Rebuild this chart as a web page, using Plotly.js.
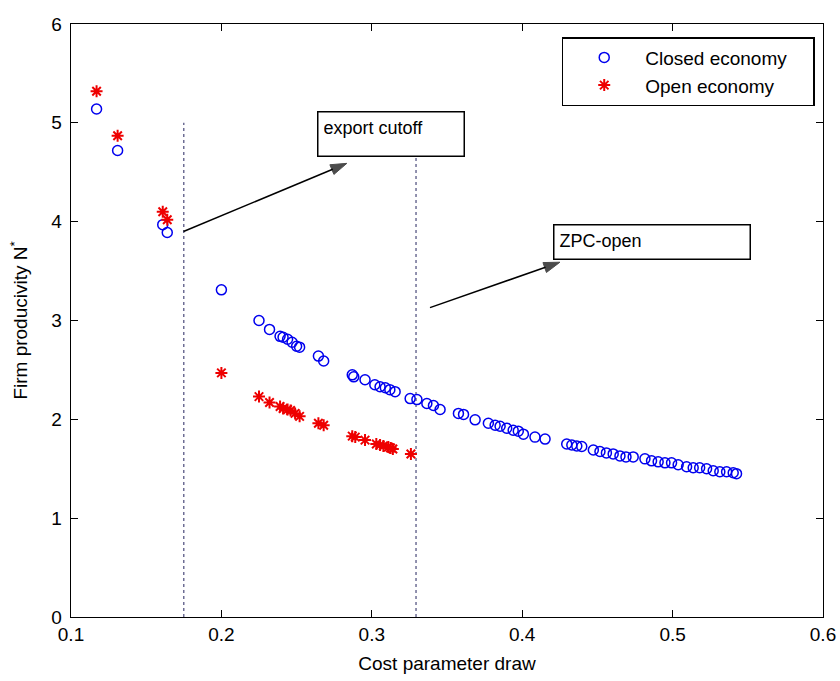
<!DOCTYPE html>
<html>
<head>
<meta charset="utf-8">
<script src="https://cdn.plot.ly/plotly-3.0.1.min.js"></script>
<style>html,body{margin:0;padding:0;background:#fff;}#chart{width:840px;height:681px;}</style>
</head>
<body>
<div id="chart"></div>
<script>
// Closed economy (blue circles)
var closedX = [0.117, 0.131, 0.161, 0.164, 0.200, 0.225, 0.232, 0.239, 0.241, 0.244, 0.247, 0.250, 0.252, 0.2645, 0.268,
  0.287, 0.288, 0.2955, 0.302, 0.3055, 0.309, 0.312, 0.3155, 0.3255, 0.330, 0.3366, 0.341, 0.3454, 0.3576, 0.361, 0.3687,
  0.3775, 0.382, 0.3853, 0.3897, 0.394, 0.3974, 0.4008, 0.4085, 0.4152, 0.4296, 0.433, 0.4363, 0.4396, 0.4473, 0.4517,
  0.456, 0.4605, 0.465, 0.469, 0.4738, 0.4816, 0.486, 0.4904, 0.4949, 0.4993, 0.5037, 0.5093, 0.5137, 0.518, 0.5226,
  0.527, 0.5314, 0.5359, 0.5403, 0.5425];
var closedY = [5.14, 4.72, 3.97, 3.89, 3.31, 3.00, 2.91, 2.84, 2.83, 2.81, 2.78, 2.74, 2.73, 2.64, 2.59,
  2.45, 2.43, 2.40, 2.35, 2.33, 2.32, 2.30, 2.28, 2.21, 2.20, 2.16, 2.14, 2.10, 2.06, 2.05, 1.995,
  1.96, 1.94, 1.93, 1.91, 1.89, 1.88, 1.85, 1.82, 1.80, 1.75, 1.74, 1.73, 1.725, 1.69, 1.675,
  1.66, 1.65, 1.63, 1.62, 1.62, 1.60, 1.58, 1.57, 1.56, 1.56, 1.54, 1.52, 1.51, 1.51, 1.50,
  1.48, 1.47, 1.47, 1.46, 1.45];
// Open economy (red stars)
var openX = [0.117, 0.131, 0.161, 0.164, 0.200, 0.225, 0.232, 0.239, 0.241, 0.244, 0.246, 0.249, 0.252, 0.2645, 0.268,
  0.287, 0.289, 0.2955, 0.303, 0.3055, 0.3077, 0.311, 0.3125, 0.314, 0.326];
var openY = [5.32, 4.87, 4.10, 4.02, 2.47, 2.23, 2.17, 2.13, 2.11, 2.10, 2.09, 2.06, 2.03, 1.96, 1.94,
  1.83, 1.82, 1.79, 1.75, 1.74, 1.73, 1.72, 1.71, 1.70, 1.65];
// Cutoff lines
var cutoffX = [0.175, 0.3294];
var cutoffTop = [5.0, 4.8];
var legendNames = ['Closed economy', 'Open economy'];
var xTicks = [0.1, 0.2, 0.3, 0.4, 0.5, 0.6];
var yTicks = [0, 1, 2, 3, 4, 5, 6];
// Annotation text and arrows
var labelTexts = ['export cutoff', 'ZPC-open'];
var labelPos = [[0.2635, 5.12], [0.4205, 3.98]];
var arrowTail = [[0.1748, 3.90], [0.3387, 3.13]];
var arrowHead = [[0.2834, 4.59], [0.4251, 3.59]];

var FONT = 'Liberation Sans, Arial, sans-serif';
var NB = '\u00a0\u00a0\u00a0\u00a0';

var traces = [];
for (var i = 0; i < cutoffX.length; i++) {
  traces.push({x: [cutoffX[i], cutoffX[i]], y: [0, cutoffTop[i]], mode: 'lines', showlegend: false,
    hoverinfo: 'skip', line: {color: '#4a4a7a', width: 1.2, dash: 'dot'}});
}
for (var k = 0; k < arrowTail.length; k++) {
  traces.push({x: [arrowTail[k][0], arrowHead[k][0]], y: [arrowTail[k][1], arrowHead[k][1]],
    mode: 'lines+markers', showlegend: false, hoverinfo: 'skip', line: {color: '#000', width: 1.5},
    marker: {symbol: ['circle', 'arrow'], size: [0, 17], color: '#000', angleref: 'previous',
      line: {width: 1, color: '#000'}}});
}
traces.push({x: closedX, y: closedY, mode: 'markers', name: legendNames[0] + NB, type: 'scatter',
  marker: {symbol: 'circle-open', size: 10, color: '#0000ee', line: {width: 1.5, color: '#0000ee'}}});
traces.push({x: openX, y: openY, mode: 'markers', name: legendNames[1] + NB, type: 'scatter',
  marker: {symbol: 'asterisk-open', size: 10, color: '#ee0000', line: {width: 2, color: '#ee0000'}}});

var annotations = [];
var boxW = [135, 185], boxH = [33, 23];
for (var j = 0; j < labelTexts.length; j++) {
  annotations.push({x: labelPos[j][0], y: labelPos[j][1], xref: 'x', yref: 'y', text: labelTexts[j],
    showarrow: false, xanchor: 'left', yanchor: 'top', align: 'left', valign: 'top',
    width: boxW[j], height: boxH[j], bordercolor: '#000', borderwidth: 1.5, borderpad: 5, bgcolor: '#fff',
    font: {family: FONT, size: 18, color: '#000'}});
}

var layout = {
  width: 840, height: 681,
  margin: {l: 71, r: 17, t: 24, b: 64},
  paper_bgcolor: '#fff', plot_bgcolor: '#fff',
  font: {family: FONT, size: 18, color: '#000'},
  showlegend: true,
  legend: {x: 0.989, y: 0.978, xanchor: 'right', yanchor: 'top', bgcolor: '#fff', bordercolor: '#000',
    borderwidth: 1.5, font: {family: FONT, size: 19, color: '#000'}, itemwidth: 72},
  xaxis: {range: [0.1, 0.6], tickvals: xTicks, ticktext: xTicks.map(function(v){return String(v);}),
    ticks: 'inside', ticklen: 7, tickcolor: '#000', showline: true, linecolor: '#000', linewidth: 1.3, mirror: 'ticks',
    showgrid: false, zeroline: false, tickfont: {size: 19},
    title: {text: 'Cost parameter draw', font: {size: 19}, standoff: 12}},
  yaxis: {range: [0, 6], tickvals: yTicks, ticks: 'inside', ticklen: 7, tickcolor: '#000', showline: true,
    linecolor: '#000', linewidth: 1.3, mirror: 'ticks', showgrid: false, zeroline: false, tickfont: {size: 19},
    ticklabelstandoff: 4,
    title: {text: 'Firm producivity N<sup>*</sup>', font: {size: 19}, standoff: 18}},
  annotations: annotations
};
Plotly.newPlot('chart', traces, layout, {displayModeBar: false, staticPlot: true});
</script>
</body>
</html>
